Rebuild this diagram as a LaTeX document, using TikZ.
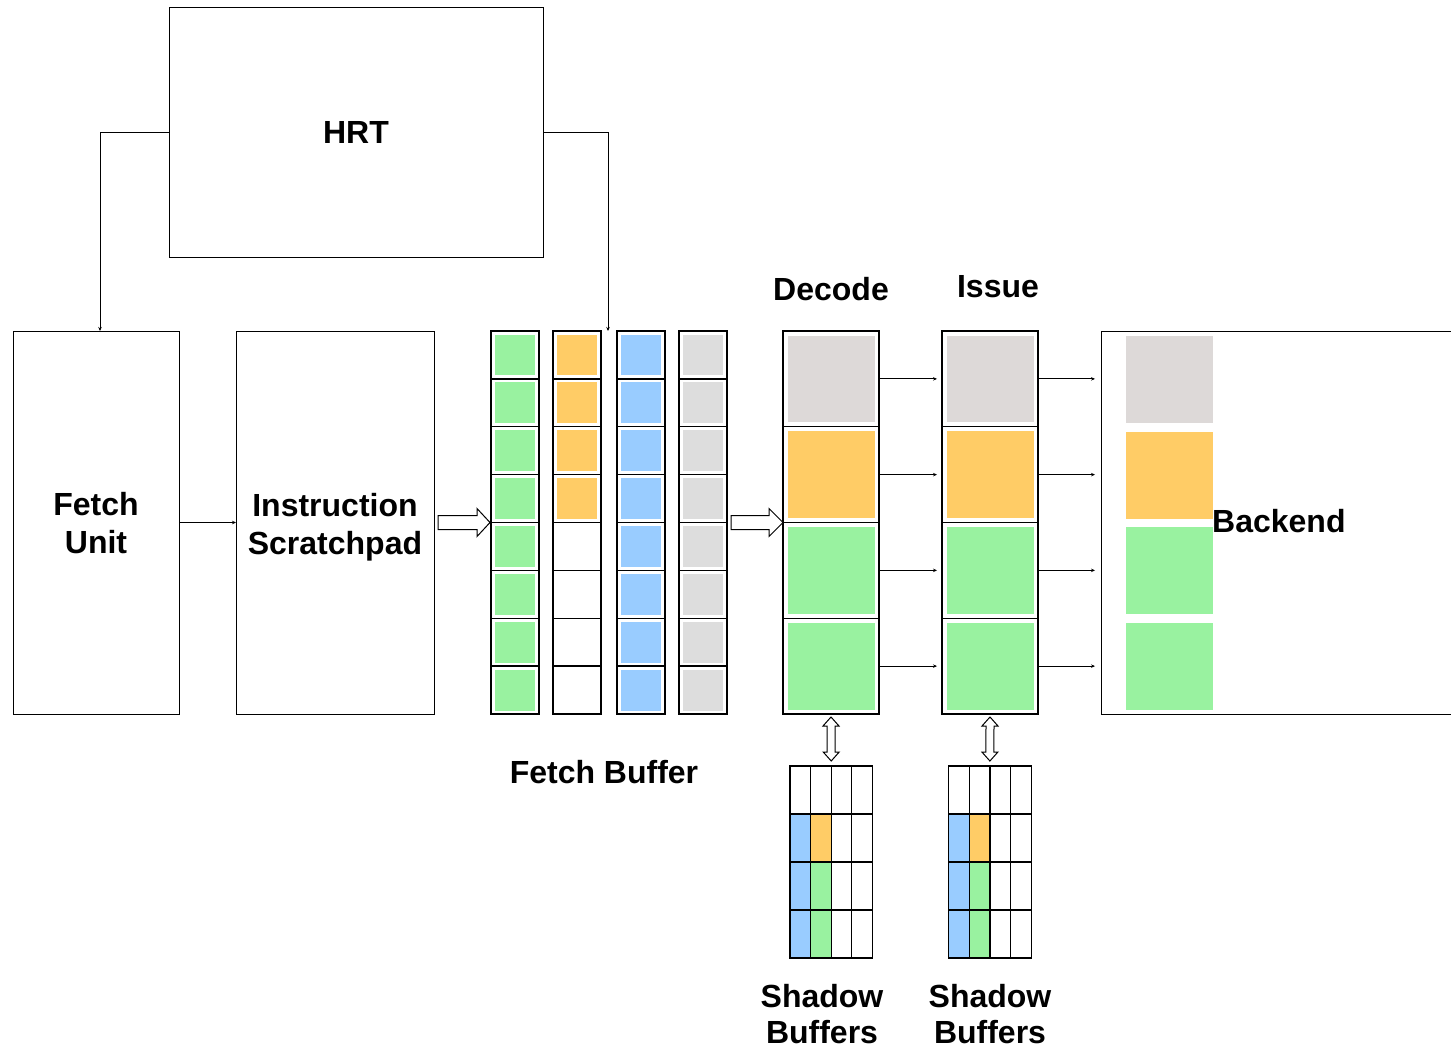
\documentclass[tikz,border=0pt]{standalone}
\usepackage{fontspec}
\setmainfont{Liberation Sans}
\usetikzlibrary{arrows.meta,calc}
\definecolor{cgreen}{HTML}{99F2A0}
\definecolor{corange}{HTML}{FFCC66}
\definecolor{cblue}{HTML}{99CCFF}
\definecolor{cgray}{HTML}{DDDDDD}
\definecolor{cwarm}{HTML}{DDD9D8}
\begin{document}
\begin{tikzpicture}[x=1pt,y=-1pt,
  box/.style={draw=black, line width=1pt, inner sep=0pt, outer sep=0pt},
  cellbox/.style={draw=black, line width=1.3pt, inner sep=0pt, outer sep=0pt, minimum width=48pt, minimum height=47.875pt, anchor=north west},
  bigcell/.style={draw=black, line width=1.3pt, inner sep=0pt, outer sep=0pt, minimum width=96pt, minimum height=95.75pt, anchor=north west},
  lbl/.style={font=\fontsize{32}{38}\selectfont\bfseries, align=center, inner sep=0pt},
  conn/.style={draw=black, line width=1pt, -{Stealth[length=4pt,width=3.5pt]}},
  blockarrow/.style={draw=black, line width=1pt, fill=white, line join=miter},
  gridline/.style={draw=black, line width=1.2pt}
]
\useasboundingbox (0,0) rectangle (1451,1050);

% main boxes
\node[box, lbl, minimum width=374pt, minimum height=250pt] (hrt) at (356,132) {HRT};
\node[box, minimum width=166pt, minimum height=383pt] (fu) at (96,522.5) {};
\node[lbl] (fut) at (96,523.5) {Fetch\\Unit};
\node[box, minimum width=198pt, minimum height=383pt] (sp) at (335,522.5) {};
\node[lbl] (spt) at (335,527) {Instruction\\Scratchpad};

% fetch buffer
\foreach \c/\x in {1/491,2/553,3/617,4/679}{
  \foreach \r in {1,...,8}{
    \node[cellbox] (fb\c\r) at (\x,{331+(\r-1)*47.875}) {};
  }
}
\foreach \r in {1,...,8}{
  \fill[cgreen] ($(fb1\r.north west)+(4,3.5)$) rectangle ($(fb1\r.south east)+(-4,-3.5)$);
  \fill[cblue] ($(fb3\r.north west)+(4,3.5)$) rectangle ($(fb3\r.south east)+(-4,-3.5)$);
  \fill[cgray] ($(fb4\r.north west)+(4,3.5)$) rectangle ($(fb4\r.south east)+(-4,-3.5)$);
}
\foreach \r in {1,...,4}{
  \fill[corange] ($(fb2\r.north west)+(4,3.5)$) rectangle ($(fb2\r.south east)+(-4,-3.5)$);
}
\node[lbl] (fbl) at (604,772) {Fetch Buffer};
\coordinate (fbin) at (608,331);

% decode / issue
\foreach \r in {1,...,4}{
  \node[bigcell] (d\r) at (783,{331+(\r-1)*95.75}) {};
  \node[bigcell] (i\r) at (942,{331+(\r-1)*95.75}) {};
}
\foreach \n/\col in {1/cwarm,2/corange,3/cgreen,4/cgreen}{
  \fill[\col] ($(d\n.north west)+(4.5,4.5)$) rectangle ($(d\n.south east)+(-4.5,-4.5)$);
  \fill[\col] ($(i\n.north west)+(4.5,4.5)$) rectangle ($(i\n.south east)+(-4.5,-4.5)$);
}
\node[lbl] (decl) at (831,289) {Decode};
\node[lbl] (issl) at (998,287) {Issue};

% backend
\node[inner sep=0pt, outer sep=0pt, minimum width=350pt, minimum height=383pt, anchor=north west] (be) at (1101,331) {};
\draw[line width=1pt] (be.north east) -- (be.north west) -- (be.south west) -- (be.south east);
\fill[cwarm] (1126,336) rectangle (1213,423);
\fill[corange] (1126,432) rectangle (1213,519);
\fill[cgreen] (1126,527) rectangle (1213,614);
\fill[cgreen] (1126,623) rectangle (1213,710);
\node[lbl, anchor=west] (bel) at (1212,521) {Backend};

% connectors
\draw[conn] (hrt.west) -| ([xshift=4pt]fu.north);
\draw[conn] (hrt.east) -| (fbin);
\draw[conn] (fu.east) -- (sp.west);
\foreach \r in {1,...,4}{
  \draw[conn, shorten >=5pt] (d\r.east) -- (i\r.west);
  \draw[conn, shorten >=6pt] (i\r.east) -- (be.west |- i\r.east);
}

% block arrows
\draw[blockarrow] ($(sp.east)+(4,-7)$) -- ++(39,0) -- ++(0,-7) -- ($(fb15.north west)+(-1,0)$) -- ($(sp.east)+(43,14)$) -- ++(0,-7) -- ++(-39,0) -- cycle;
\draw[blockarrow] ($(fb45.north east)+(4,-7)$) -- ++(38,0) -- ++(0,-7) -- (d3.north west) -- ($(fb45.north east)+(42,14)$) -- ++(0,-7) -- ++(-38,0) -- cycle;

% shadow buffers
\foreach \s/\x in {A/790,B/948.7}{
  \node[inner sep=0pt, outer sep=0pt, minimum width=82.4pt, minimum height=192pt, anchor=north west] (s\s) at (\x,766) {};
  \fill[cblue] ($(s\s.north west)+(0,48)$) rectangle ($(s\s.south west)+(20.6,0)$);
  \fill[corange] ($(s\s.north west)+(20.6,48)$) rectangle ($(s\s.north west)+(41.2,96)$);
  \fill[cgreen] ($(s\s.north west)+(20.6,96)$) rectangle ($(s\s.north west)+(41.2,192)$);
  \draw[gridline] (s\s.north west) rectangle (s\s.south east);
  \foreach \k in {1,2,3}{
    \draw[gridline] ($(s\s.north west)+({\k*20.6},0)$) -- ($(s\s.north west)+({\k*20.6},192)$);
    \draw[gridline] ($(s\s.north west)+(0,{\k*48})$) -- ($(s\s.north east)+(0,{\k*48})$);
  }
}
\node[lbl, font=\fontsize{32}{36}\selectfont\bfseries] (sbA) at (822,1014) {Shadow\\Buffers};
\node[lbl, font=\fontsize{32}{36}\selectfont\bfseries] (sbB) at (990,1014) {Shadow\\Buffers};

% double arrows
\foreach \top/\bot in {d4/sA,i4/sB}{
  \coordinate (ta) at ($(\top.south)+(0,3)$);
  \coordinate (tb) at ($(\bot.north)+(0,-5)$);
  \draw[blockarrow] (ta) -- ++(8,9) -- ++(-4,0) -- ($(tb)+(4,-9)$) -- ++(4,0) -- (tb) -- ++(-8,-9) -- ++(4,0) -- ($(ta)+(-4,9)$) -- ++(-4,0) -- cycle;
}
\end{tikzpicture}
\end{document}
